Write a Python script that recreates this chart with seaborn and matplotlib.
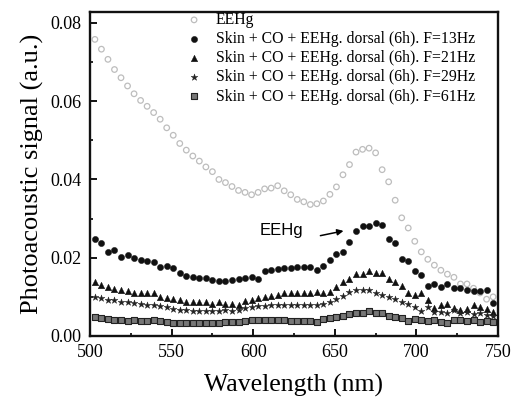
import numpy as np
import pandas as pd
import matplotlib
matplotlib.use("Agg")
import matplotlib.pyplot as plt
from matplotlib.ticker import MultipleLocator
import seaborn as sns

wavelength = list(range(503, 748, 4))

eehg = [0.0758, 0.0733, 0.0707, 0.0681, 0.0660, 0.0639, 0.0619, 0.0602, 0.0587, 0.0571,
        0.0554, 0.0532, 0.0513, 0.0492, 0.0475, 0.0460, 0.0447, 0.0432, 0.0420, 0.0400,
        0.0392, 0.0382, 0.0372, 0.0367, 0.0361, 0.0367, 0.0376, 0.0378, 0.0384, 0.0371,
        0.0361, 0.0349, 0.0343, 0.0336, 0.0338, 0.0345, 0.0362, 0.0381, 0.0412, 0.0438,
        0.0470, 0.0477, 0.0480, 0.0468, 0.0425, 0.0394, 0.0347, 0.0302, 0.0276, 0.0242,
        0.0215, 0.0196, 0.0181, 0.0168, 0.0158, 0.0150, 0.0133, 0.0133, 0.0122, 0.0110,
        0.0094, 0.0100]

f13 = [0.0249, 0.0238, 0.0215, 0.0219, 0.0202, 0.0208, 0.0200, 0.0194, 0.0191, 0.0190,
       0.0177, 0.0180, 0.0173, 0.0160, 0.0153, 0.0151, 0.0149, 0.0147, 0.0143, 0.0141,
       0.0141, 0.0143, 0.0145, 0.0147, 0.0150, 0.0146, 0.0167, 0.0168, 0.0171, 0.0175,
       0.0175, 0.0177, 0.0177, 0.0177, 0.0168, 0.0180, 0.0194, 0.0209, 0.0215, 0.0241,
       0.0268, 0.0281, 0.0281, 0.0290, 0.0283, 0.0249, 0.0238, 0.0198, 0.0192, 0.0166,
       0.0156, 0.0128, 0.0133, 0.0124, 0.0134, 0.0123, 0.0123, 0.0117, 0.0116, 0.0116,
       0.0117, 0.0085]

f21 = [0.0138, 0.0131, 0.0125, 0.0119, 0.0117, 0.0114, 0.0111, 0.0110, 0.0110, 0.0110,
       0.0099, 0.0097, 0.0094, 0.0093, 0.0087, 0.0086, 0.0087, 0.0086, 0.0082, 0.0086,
       0.0083, 0.0083, 0.0078, 0.0089, 0.0093, 0.0097, 0.0099, 0.0101, 0.0105, 0.0110,
       0.0109, 0.0109, 0.0109, 0.0109, 0.0113, 0.0111, 0.0113, 0.0126, 0.0137, 0.0145,
       0.0158, 0.0158, 0.0167, 0.0162, 0.0161, 0.0145, 0.0137, 0.0128, 0.0109, 0.0105,
       0.0109, 0.0092, 0.0072, 0.0079, 0.0081, 0.0071, 0.0066, 0.0068, 0.0079, 0.0073,
       0.0068, 0.0062]

f29 = [0.0099, 0.0096, 0.0093, 0.0091, 0.0088, 0.0086, 0.0084, 0.0083, 0.0080, 0.0078,
       0.0076, 0.0073, 0.0070, 0.0067, 0.0067, 0.0065, 0.0065, 0.0065, 0.0065, 0.0065,
       0.0066, 0.0065, 0.0066, 0.0071, 0.0073, 0.0076, 0.0076, 0.0078, 0.0080, 0.0080,
       0.0080, 0.0080, 0.0080, 0.0080, 0.0080, 0.0083, 0.0088, 0.0094, 0.0103, 0.0113,
       0.0117, 0.0117, 0.0117, 0.0110, 0.0106, 0.0100, 0.0094, 0.0086, 0.0081, 0.0073,
       0.0065, 0.0075, 0.0062, 0.0062, 0.0058, 0.0066, 0.0058, 0.0062, 0.0055, 0.0058,
       0.0054, 0.0052]

f61 = [0.0048, 0.0047, 0.0044, 0.0042, 0.0042, 0.0039, 0.0040, 0.0039, 0.0039, 0.0040,
       0.0039, 0.0037, 0.0033, 0.0033, 0.0033, 0.0033, 0.0033, 0.0032, 0.0034, 0.0032,
       0.0037, 0.0037, 0.0036, 0.0039, 0.0040, 0.0040, 0.0042, 0.0042, 0.0042, 0.0040,
       0.0039, 0.0039, 0.0039, 0.0039, 0.0036, 0.0043, 0.0047, 0.0049, 0.0052, 0.0055,
       0.0058, 0.0060, 0.0064, 0.0060, 0.0058, 0.0052, 0.0048, 0.0045, 0.0039, 0.0043,
       0.0040, 0.0038, 0.0040, 0.0036, 0.0034, 0.0042, 0.0040, 0.0039, 0.0040, 0.0036,
       0.0038, 0.0035]

labels = ["EEHg",
          "Skin + CO + EEHg. dorsal (6h). F=13Hz",
          "Skin + CO + EEHg. dorsal (6h). F=21Hz",
          "Skin + CO + EEHg. dorsal (6h). F=29Hz",
          "Skin + CO + EEHg. dorsal (6h). F=61Hz"]

sns.set_style("ticks")
plt.rcParams["font.family"] = ["Liberation Serif", "DejaVu Serif"]
plt.rcParams["text.color"] = "black"
plt.rcParams["axes.labelcolor"] = "black"
plt.rcParams["xtick.color"] = "black"
plt.rcParams["ytick.color"] = "black"

fig = plt.figure(figsize=(5.15, 4.0), dpi=100)
ax = fig.add_axes([90 / 515, 1 - 336 / 400, 408 / 515, 324 / 400])

series = [eehg, f13, f21, f29, f61]
styles = [
    dict(marker="o", s=16, facecolor="none", edgecolor="#bdbdbd", linewidth=0.9),
    dict(marker="o", s=20, color="#111111", edgecolor="#111111", linewidth=0.3),
    dict(marker="^", s=22, color="#111111", edgecolor="#111111", linewidth=0.3),
    dict(marker="*", s=26, color="#222222", edgecolor="#222222", linewidth=0.3),
    dict(marker="s", s=13, color="#777777", edgecolor="#222222", linewidth=0.8),
]
for vals, lab, st in zip(series, labels, styles):
    df = pd.DataFrame({"wl": wavelength, "v": vals})
    sns.scatterplot(data=df, x="wl", y="v", ax=ax, label=lab, legend=False, **st)

ax.set_xlim(500, 750)
ax.set_ylim(0, 0.0828)
ax.xaxis.set_major_locator(MultipleLocator(50))
ax.xaxis.set_minor_locator(MultipleLocator(25))
ax.yaxis.set_major_locator(MultipleLocator(0.02))
ax.yaxis.set_minor_locator(MultipleLocator(0.01))
ax.yaxis.set_major_formatter(plt.FuncFormatter(lambda v, p: f"{v:.2f}"))
ax.tick_params(which="major", direction="in", length=5, width=1.3, labelsize=13)
ax.tick_params(axis="x", which="major", pad=6)
ax.tick_params(axis="y", which="major", pad=6)
ax.tick_params(which="minor", direction="in", length=2.5, width=1.2)
ax.tick_params(top=False, right=False, which="both")
for sp in ax.spines.values():
    sp.set_linewidth(1.7)
    sp.set_color("#111111")

ax.set_xlabel("Wavelength (nm)", fontsize=18.5, labelpad=9)
ax.set_ylabel("Photoacoustic signal (a.u.)", fontsize=19, labelpad=5)

leg = ax.legend(loc="upper left", bbox_to_anchor=(0.232, 1.0), frameon=False,
                fontsize=11.3, handletextpad=0.8, labelspacing=0.2,
                handlelength=1.2, borderaxespad=0, borderpad=0)

ax.annotate("EEHg", xy=(617.5, 0.0270), fontsize=12,
            family=["Liberation Sans", "DejaVu Sans"], ha="center", va="center")
ax.annotate("", xy=(657, 0.0270), xytext=(639.5, 0.0255),
            arrowprops=dict(arrowstyle="-|>", color="black", lw=1.1,
                            mutation_scale=9))

fig.savefig("out.png", dpi=100)
